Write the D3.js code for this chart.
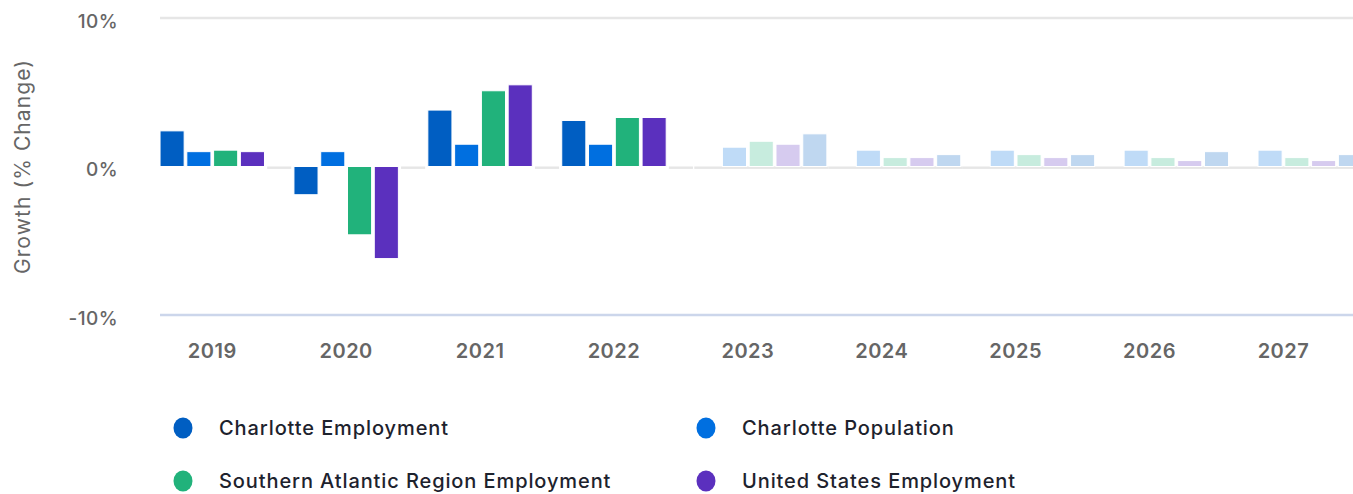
<!DOCTYPE html>
<html>
<head>
<meta charset="utf-8">
<script src="https://cdn.jsdelivr.net/npm/d3@7"></script>
<style>
  html, body { margin: 0; padding: 0; background: #fff; }
  svg { display: block; font-family: Inter, "Noto Sans", sans-serif; }
</style>
</head>
<body>
<svg id="chart" width="1353" height="494"></svg>
<script>
// Annual growth, % change. Years from forecastStart onward are projections.
const years = [2019, 2020, 2021, 2022, 2023, 2024, 2025, 2026, 2027];
const forecastStart = 2023;

const charlotteEmployment = [2.4, -1.9, 3.8, 3.1, 2.2, 0.8, 0.8, 1.0, 0.8];
const charlottePopulation = [1.0, 1.0, 1.5, 1.5, 1.3, 1.1, 1.1, 1.1, 1.1];
const southAtlanticEmployment = [1.1, -4.6, 5.1, 3.3, 1.7, 0.6, 0.8, 0.6, 0.6];
const usEmployment = [1.0, -6.2, 5.5, 3.3, 1.5, 0.6, 0.6, 0.4, 0.4];

const seriesNames = [
  "Charlotte Employment",
  "Charlotte Population",
  "Southern Atlantic Region Employment",
  "United States Employment"
];
const seriesColors = ["#005ec2", "#006fe0", "#21b27b", "#5b30be"];
// Slot of each series inside a year group (5 slots per year)
const actualSlots = [0, 1, 2, 3];
const forecastSlots = [4, 1, 2, 3];

const yTicks = [-10, 0, 10];
const yTitle = "Growth (% Change)";

const seriesValues = [charlotteEmployment, charlottePopulation, southAtlanticEmployment, usEmployment];

const svg = d3.select("#chart");
const W = 1353;

const x = d3.scaleBand().domain(years).range([158.7, 158.7 + 9 * 133.9]);
const slot = d3.scaleBand().domain(d3.range(5)).range([0, x.bandwidth()])
  .paddingInner(0.1).paddingOuter(0.05);
const y = d3.scaleLinear().domain([-10, 10]).range([315, 18]);

const plotLeft = 160;

// Horizontal grid lines at the outer ticks
svg.append("g").selectAll("line")
  .data(yTicks.filter(t => t !== 0))
  .join("line")
  .attr("x1", plotLeft).attr("x2", W)
  .attr("y1", d => y(d)).attr("y2", d => y(d))
  .attr("stroke", d => d < 0 ? "#ccd6eb" : "#e6e6e6")
  .attr("stroke-width", 2.4);

// Y tick labels
svg.append("g").selectAll("text")
  .data(yTicks)
  .join("text")
  .attr("x", 118)
  .attr("y", d => y(d) + 3)
  .attr("dy", "0.36em")
  .attr("text-anchor", "end")
  .attr("fill", "#666666")
  .attr("font-size", 19)
  .attr("font-weight", 500)
  .attr("letter-spacing", 0.4)
  .text(d => d + "%");

// Y axis title
svg.append("text")
  .attr("transform", `translate(30,${(y(10) + y(-10)) / 2}) rotate(-90)`)
  .attr("text-anchor", "middle")
  .attr("fill", "#666666")
  .attr("font-size", 21)
  .attr("letter-spacing", 1.1)
  .text(yTitle);

// Zero baseline: fills the empty slot of actual years, spans projected years fully
const zeroSegments = years.map(yr => {
  const x0 = x(yr);
  if (yr >= forecastStart) return { x1: x0, x2: x0 + x.bandwidth() };
  return { x1: x0 + slot(4), x2: x0 + slot(4) + slot.bandwidth() };
});
svg.append("g").selectAll("rect")
  .data(zeroSegments)
  .join("rect")
  .attr("x", d => d.x1)
  .attr("width", d => d.x2 - d.x1)
  .attr("y", y(0))
  .attr("height", 2.4)
  .attr("fill", "#e6e6e6");

// Bars
const bars = [];
seriesValues.forEach((vals, s) => {
  vals.forEach((v, i) => {
    const yr = years[i];
    const fc = yr >= forecastStart;
    bars.push({ s, yr, v, fc, slotIdx: fc ? forecastSlots[s] : actualSlots[s] });
  });
});

svg.append("g").selectAll("rect")
  .data(bars)
  .join("rect")
  .attr("x", d => x(d.yr) + slot(d.slotIdx))
  .attr("width", slot.bandwidth())
  .attr("y", d => Math.min(y(d.v), y(0)))
  .attr("height", d => Math.abs(y(d.v) - y(0)))
  .attr("fill", d => seriesColors[d.s])
  .attr("fill-opacity", d => d.fc ? 0.25 : 1)
  .attr("stroke", "#ffffff")
  .attr("stroke-width", 1);

// Year labels, centred under the four actual-year slots
svg.append("g").selectAll("text")
  .data(years)
  .join("text")
  .attr("x", d => x(d) + (slot(0) + slot(3) + slot.bandwidth()) / 2)
  .attr("y", 351)
  .attr("dy", "0.36em")
  .attr("text-anchor", "middle")
  .attr("fill", "#666666")
  .attr("font-size", 20)
  .attr("font-weight", 600)
  .attr("letter-spacing", 0.5)
  .text(d => d);

// Legend, two columns
const legendPos = [[183, 428], [706, 428], [183, 481], [706, 481]];
const legend = svg.append("g").selectAll("g")
  .data(seriesNames)
  .join("g")
  .attr("transform", (d, i) => `translate(${legendPos[i][0]},${legendPos[i][1]})`);
legend.append("ellipse")
  .attr("rx", 9.5).attr("ry", 10.5)
  .attr("fill", (d, i) => seriesColors[i]);
legend.append("text")
  .attr("x", 36)
  .attr("dy", "0.36em")
  .attr("fill", "#1d222d")
  .attr("font-size", 20)
  .attr("font-weight", 500)
  .attr("letter-spacing", 0.9)
  .text(d => d);
</script>
</body>
</html>
